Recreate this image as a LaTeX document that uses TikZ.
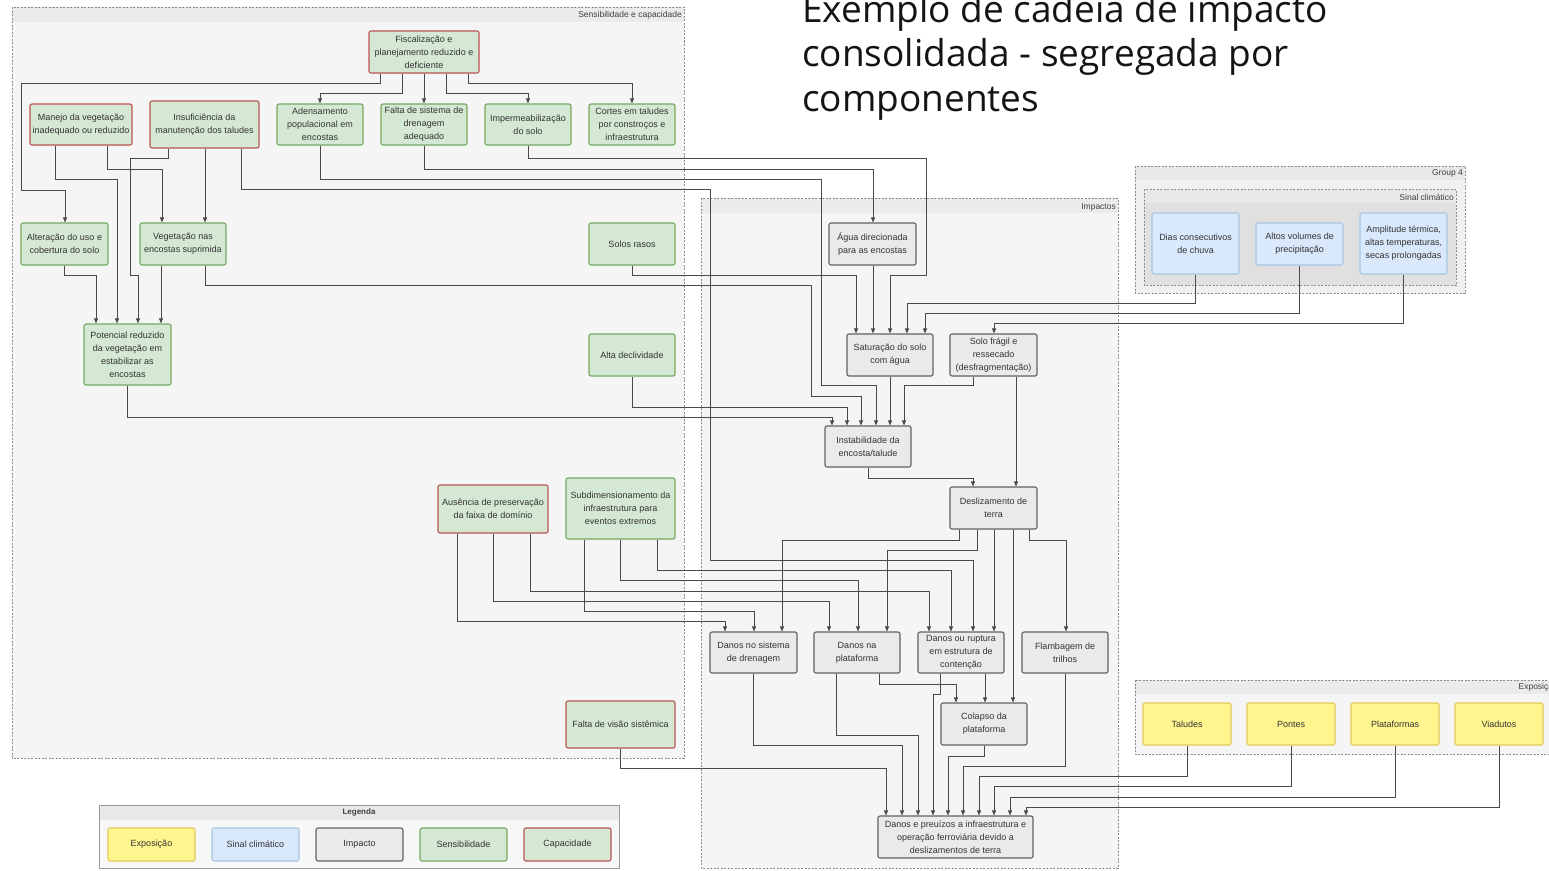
\documentclass[tikz,border=0pt]{standalone}
\usepackage{fontspec}
\setmainfont{Liberation Sans}
\newfontfamily\titulofont{Open Sans}
\usetikzlibrary{arrows.meta}
\definecolor{verdeclaro}{HTML}{D5E8D4}
\definecolor{verdeborda}{HTML}{74A863}
\definecolor{vermelho}{HTML}{B85450}
\definecolor{cinzaclaro}{HTML}{EAEAEA}
\definecolor{cinzaborda}{HTML}{626262}
\definecolor{azulclaro}{HTML}{DAE8FC}
\definecolor{azulborda}{HTML}{A9C6E3}
\definecolor{amarelo}{HTML}{FFF68F}
\definecolor{amareloborda}{HTML}{E3C95A}
\definecolor{fundo}{HTML}{F5F5F5}
\definecolor{faixa}{HTML}{EBEBEB}
\definecolor{linha}{HTML}{4A4A4A}

\begin{document}
\begin{tikzpicture}[x=1pt,y=-1pt,
  caixa/.style={rectangle, rounded corners=2pt, line width=1.1pt, align=center, inner sep=1pt,
    text=black!80, font=\fontsize{9}{13}\selectfont, minimum width=86pt, minimum height=42pt},
  sens/.style={caixa, fill=verdeclaro, draw=verdeborda},
  capac/.style={caixa, fill=verdeclaro, draw=vermelho},
  impac/.style={caixa, fill=cinzaclaro, draw=cinzaborda},
  clima/.style={caixa, fill=azulclaro, draw=azulborda},
  expo/.style={caixa, fill=amarelo, draw=amareloborda},
  moldura/.style={draw=black!45, line width=0.6pt, dash pattern=on 2pt off 1.5pt},
  rotulo/.style={inner sep=1pt, text=black!75, font=\fontsize{8.5}{10}\selectfont},
  fio/.style={draw=linha, line width=0.8pt, -{Triangle[length=5pt,width=4pt]}}]
\useasboundingbox (0,0) rectangle (1549,870);

\fill[fundo] (12,7) rectangle (684,758);
\fill[faixa] (12,7) rectangle (684,22);
\draw[moldura] (12,7) rectangle (684,758);
\node[rotulo, anchor=east] (rsens) at (683,15) {Sensibilidade e capacidade};

\fill[fundo] (701,198) rectangle (1118,868);
\fill[faixa] (701,198) rectangle (1118,213);
\draw[moldura] (701,198) rectangle (1118,868);
\node[rotulo, anchor=east] (rimp) at (1117,207) {Impactos};

\fill[black!6] (1135,166) rectangle (1465,293);
\fill[black!9] (1135,166) rectangle (1465,180);
\draw[moldura] (1135,166) rectangle (1465,293);
\node[rotulo, anchor=east] (rgrupo) at (1464,173) {Group 4};
\fill[black!12] (1144,189) rectangle (1456,285);
\fill[black!9] (1144,189) rectangle (1456,203);
\draw[moldura] (1144,189) rectangle (1456,285);
\node[rotulo, anchor=east] (rsinal) at (1455,197) {Sinal climático};

\fill[fundo] (1135,680) rectangle (1575,754);
\fill[faixa] (1135,680) rectangle (1575,694);
\draw[moldura] (1135,680) rectangle (1575,754);
\node[rotulo, anchor=east] (rexpo) at (1559,687) {Exposição};

\fill[black!3] (99,805) rectangle (619,868);
\fill[black!9] (99,805) rectangle (619,820);
\draw[black!40, line width=0.8pt] (99,805) rectangle (619,868);
\node[rotulo, font=\bfseries\fontsize{8}{9}\selectfont] (rleg) at (359,812.5) {Legenda};

\node[anchor=base west, align=left, inner sep=0, text=black!92,
  font=\titulofont\fontsize{37}{44.5}\selectfont] (titulo) at (802,111)
  {Exemplo de cadeia de impacto\\consolidada - segregada por\\componentes};

\node[capac, minimum width=110pt] (fisc) at (424,52) {Fiscalização e\\planejamento reduzido e\\deficiente};
\node[capac, minimum width=102pt, minimum height=41pt] (manejo) at (81,124.5) {Manejo da vegetação\\inadequado ou reduzido};
\node[capac, minimum width=109pt, minimum height=47pt] (insuf) at (204.5,124.5) {Insuficiência da\\manutenção dos taludes};
\node[sens, minimum height=41pt] (adens) at (320,124.5) {Adensamento\\populacional em\\encostas};
\node[sens, minimum height=41pt] (falta) at (424,124.5) {Falta de sistema de\\drenagem\\adequado};
\node[sens, minimum height=41pt] (imperm) at (528,124.5) {Impermeabilização\\do solo};
\node[sens, minimum height=41pt] (cortes) at (632,124.5) {Cortes em taludes\\por constroços e\\infraestrutura};
\node[sens, minimum width=87pt] (alter) at (64.5,244) {Alteração do uso e\\cobertura do solo};
\node[sens] (veget) at (183,244) {Vegetação nas\\encostas suprimida};
\node[sens] (solos) at (632,244) {Solos rasos};
\node[sens, minimum width=87pt, minimum height=61pt] (potenc) at (127.5,354.5) {Potencial reduzido\\da vegetação em\\estabilizar as\\encostas};
\node[sens] (alta) at (632,355) {Alta declividade};
\node[capac, minimum width=110pt, minimum height=48pt] (ausen) at (493,509) {Ausência de preservação\\da faixa de domínio};
\node[sens, minimum width=109pt, minimum height=61pt] (subdim) at (620.5,508.5) {Subdimensionamento da\\infraestrutura para\\eventos extremos};
\node[capac, minimum width=109pt, minimum height=47pt] (faltavis) at (620.5,724.5) {Falta de visão sistêmica};

\node[impac, minimum width=87pt] (agua) at (872.5,244) {Água direcionada\\para as encostas};
\node[impac] (satur) at (890,355) {Saturação do solo\\com água};
\node[impac, minimum width=87pt] (solofr) at (993.5,355) {Solo frágil e\\ressecado\\(desfragmentação)};
\node[impac, minimum height=41pt] (instab) at (868,446.5) {Instabilidade da\\encosta/talude};
\node[impac, minimum width=87pt] (desliz) at (993.5,508) {Deslizamento de\\terra};
\node[impac, minimum width=87pt, minimum height=41pt] (dndren) at (753.5,652.5) {Danos no sistema\\de drenagem};
\node[impac, minimum height=41pt] (dnplat) at (857,652.5) {Danos na\\plataforma};
\node[impac, minimum height=41pt] (dnrupt) at (961,652.5) {Danos ou ruptura\\em estrutura de\\contenção};
\node[impac, minimum height=41pt] (flamb) at (1065,652.5) {Flambagem de\\trilhos};
\node[impac] (colapso) at (984,724) {Colapso da\\plataforma};
\node[impac, minimum width=155pt] (danos) at (955.5,837) {Danos e preuízos a infraestrutura e\\operação ferroviária devido a\\deslizamentos de terra};

\node[clima, minimum width=87pt, minimum height=61pt] (dias) at (1195.5,243.5) {Dias consecutivos\\de chuva};
\node[clima, minimum width=87pt] (altos) at (1299.5,244) {Altos volumes de\\precipitação};
\node[clima, minimum width=87pt, minimum height=61pt] (ampl) at (1403.5,243.5) {Amplitude térmica,\\altas temperaturas,\\secas prolongadas};

\node[expo, minimum width=88pt] (taludes) at (1187,724) {Taludes};
\node[expo, minimum width=88pt] (pontes) at (1291,724) {Pontes};
\node[expo, minimum width=88pt] (plataf) at (1395,724) {Plataformas};
\node[expo, minimum width=88pt] (viad) at (1499,724) {Viadutos};

\node[expo, minimum width=87pt, minimum height=33pt] (lexpo) at (151.5,844.5) {Exposição};
\node[clima, minimum width=87pt, minimum height=33pt] (lclima) at (255.5,844.5) {Sinal climático};
\node[impac, minimum width=87pt, minimum height=33pt] (limpac) at (359.5,844.5) {Impacto};
\node[sens, minimum width=87pt, minimum height=33pt] (lsens) at (463.5,844.5) {Sensibilidade};
\node[capac, minimum width=87pt, minimum height=33pt] (lcapac) at (567.5,844.5) {Capacidade};

\draw[fio] (380,0 |- fisc.south) |- (21,83) |- (65,190) -- (65,0 |- alter.north);
\draw[fio] (402,0 |- fisc.south) |- (320,93) -- (adens);
\draw[fio] (fisc) -- (falta);
\draw[fio] (446,0 |- fisc.south) |- (528,93) -- (imperm);
\draw[fio] (468,0 |- fisc.south) |- (632,83) -- (cortes);
\draw[fio] (55,0 |- manejo.south) |- (117,179) -- (117,0 |- potenc.north);
\draw[fio] (107,0 |- manejo.south) |- (162,169) -- (162,0 |- veget.north);
\draw[fio] (168,0 |- insuf.south) |- (130,158) |- (138,275) -- (138,0 |- potenc.north);
\draw[fio] (205,0 |- insuf.south) -- (205,0 |- veget.north);
\draw[fio] (241,0 |- insuf.south) |- (710,189) |- (973,560) -- (973,0 |- dnrupt.north);
\draw[fio] (adens) |- (821,179) |- (876,385) -- (876,0 |- instab.north);
\draw[fio] (falta) |- (873,169) -- (873,0 |- agua.north);
\draw[fio] (imperm) |- (926,158) |- (890,275) -- (satur);
\draw[fio] (alter) |- (96,275) -- (96,0 |- potenc.north);
\draw[fio] (161,0 |- veget.south) -- (161,0 |- potenc.north);
\draw[fio] (205,0 |- veget.south) |- (811,285) |- (861,396) -- (861,0 |- instab.north);
\draw[fio] (solos) |- (856,275) -- (856,0 |- satur.north);
\draw[fio] (potenc) |- (832,417) -- (832,0 |- instab.north);
\draw[fio] (alta) |- (847,407) -- (847,0 |- instab.north);
\draw[fio] (873,0 |- agua.south) -- (873,0 |- satur.north);
\draw[fio] (dias) |- (907,303) -- (907,0 |- satur.north);
\draw[fio] (altos) |- (925,313) -- (925,0 |- satur.north);
\draw[fio] (ampl) |- (994,323) -- (994,0 |- solofr.north);
\draw[fio] (satur) -- (instab.north -| satur);
\draw[fio] (973,0 |- solofr.south) |- (904,385) -- (904,0 |- instab.north);
\draw[fio] (1016,0 |- solofr.south) -- (1016,0 |- desliz.north);
\draw[fio] (instab) |- (973,478) -- (973,0 |- desliz.north);
\draw[fio] (959,0 |- desliz.south) |- (782,540) -- (782,0 |- dndren.north);
\draw[fio] (977,0 |- desliz.south) |- (887,550) -- (887,0 |- dnplat.north);
\draw[fio] (994,0 |- desliz.south) -- (994,0 |- dnrupt.north);
\draw[fio] (1013,0 |- desliz.south) -- (1013,0 |- colapso.north);
\draw[fio] (1029,0 |- desliz.south) |- (1066,540) -- (1066,0 |- flamb.north);
\draw[fio] (457,0 |- ausen.south) |- (725,621) -- (725,0 |- dndren.north);
\draw[fio] (ausen) |- (829,601) -- (829,0 |- dnplat.north);
\draw[fio] (530,0 |- ausen.south) |- (929,591) -- (929,0 |- dnrupt.north);
\draw[fio] (584,0 |- subdim.south) |- (754,611) -- (754,0 |- dndren.north);
\draw[fio] (subdim) |- (858,580) -- (858,0 |- dnplat.north);
\draw[fio] (657,0 |- subdim.south) |- (951,570) -- (951,0 |- dnrupt.north);
\draw[fio] (dndren) |- (902,745) -- (902,0 |- danos.north);
\draw[fio] (836,0 |- dnplat.south) |- (918,735) -- (918,0 |- danos.north);
\draw[fio] (879,0 |- dnplat.south) |- (956,684) -- (956,0 |- colapso.north);
\draw[fio] (985,0 |- dnrupt.south) -- (985,0 |- colapso.north);
\draw[fio] (940,0 |- dnrupt.south) |- (933,694) -- (933,0 |- danos.north);
\draw[fio] (colapso) |- (948,756) -- (948,0 |- danos.north);
\draw[fio] (flamb) |- (963,766) -- (963,0 |- danos.north);
\draw[fio] (faltavis) |- (886,768) -- (886,0 |- danos.north);
\draw[fio] (taludes) |- (979,776) -- (979,0 |- danos.north);
\draw[fio] (pontes) |- (994,786) -- (994,0 |- danos.north);
\draw[fio] (plataf) |- (1010,797) -- (1010,0 |- danos.north);
\draw[fio] (viad) |- (1026,807) -- (1026,0 |- danos.north);
\end{tikzpicture}
\end{document}
